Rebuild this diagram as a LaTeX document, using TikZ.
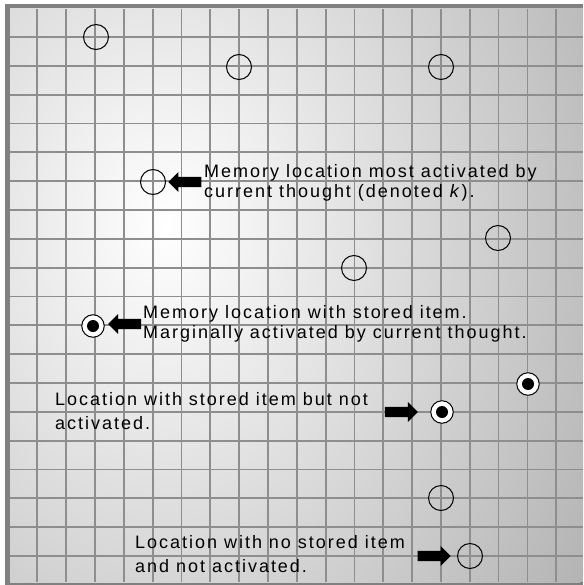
\documentclass[tikz,border=0pt]{standalone}
\usepackage{fontspec}
\setmainfont{Liberation Sans}
\newfontfamily\notefont[LetterSpace=11]{Liberation Sans}
\usetikzlibrary{positioning, shapes.arrows}
\definecolor{framegray}{HTML}{808080}
\definecolor{cellgray}{HTML}{B4B4B4}
\definecolor{gridgray}{HTML}{8E8E8E}

\tikzset{
  emptyloc/.style={circle, draw=black, line width=1pt, minimum size=25pt, inner sep=0pt},
  storedloc/.style={circle, draw=black, fill=white, line width=1pt, minimum size=22.5pt, inner sep=0pt,
    path picture={\fill[black] (path picture bounding box.center) circle (6pt);}},
  pointer/.style={single arrow, fill=black, inner xsep=0pt, inner ysep=5pt, minimum height=33pt,
    single arrow head extend=5pt},
  note/.style={font=\notefont\fontsize{18}{20.5}\selectfont, align=left, inner sep=0pt, anchor=west},
  gridline/.style={gridgray, line width=1.8pt},
}

\begin{document}
\begin{tikzpicture}[x=1pt, y=-1pt]
  \useasboundingbox (0,0) rectangle (583,585);
  \clip (0,0) rectangle (583,585);
  % frame and shaded field
  \fill[white] (0,0) rectangle (583,585);
  \fill[framegray] (5,4) rectangle (583,585);
  \begin{scope}
    \clip (10,9) rectangle (583,582);
    \fill[cellgray] (10,9) rectangle (583,582);
    \shade[inner color=white, outer color=cellgray] (165,225) ellipse [x radius=500, y radius=640];
  \end{scope}
  % grid
  \foreach \k in {0,...,18} {
    \draw[gridline] ({37.3+28.83*\k},9) -- ({37.3+28.83*\k},582);
    \draw[gridline] (10,{37+28.83*\k}) -- (583,{37+28.83*\k});
  }
  % memory locations
  \node[emptyloc] (m0) at (96,37) {};
  \node[emptyloc] (m1) at (239,67) {};
  \node[emptyloc] (m2) at (441,67) {};
  \node[emptyloc] (mk) at (153,182) {};
  \node[emptyloc] (m4) at (498,238) {};
  \node[emptyloc] (m5) at (354,268) {};
  \node[storedloc] (s1) at (93,326) {};
  \node[storedloc] (s2) at (528,384) {};
  \node[storedloc] (s3) at (442,412) {};
  \node[emptyloc] (m6) at (441,498) {};
  \node[emptyloc] (m7) at (470,556) {};
  % pointers
  \node[pointer, shape border rotate=180, right=2pt of mk] (p1) {};
  \node[pointer, shape border rotate=180, right=3pt of s1, yshift=2pt] (p2) {};
  \node[pointer, left=12pt of s3] (p3) {};
  \node[pointer, left=6pt of m7] (p4) {};
  % notes
  \node[note] (n1) at (204,183) {Memory location most activated by\\current thought (denoted \textit{k}).};
  \node[note] (n2) at (143,324) {Memory location with stored item.\\Marginally activated by current thought.};
  \node[note] (n3) at (55,411) {Location with stored item  but not\\[4pt]activated.};
  \node[note] (n4) at (135,554) {Location with no stored item\\[4pt]and not activated.};
\end{tikzpicture}
\end{document}
